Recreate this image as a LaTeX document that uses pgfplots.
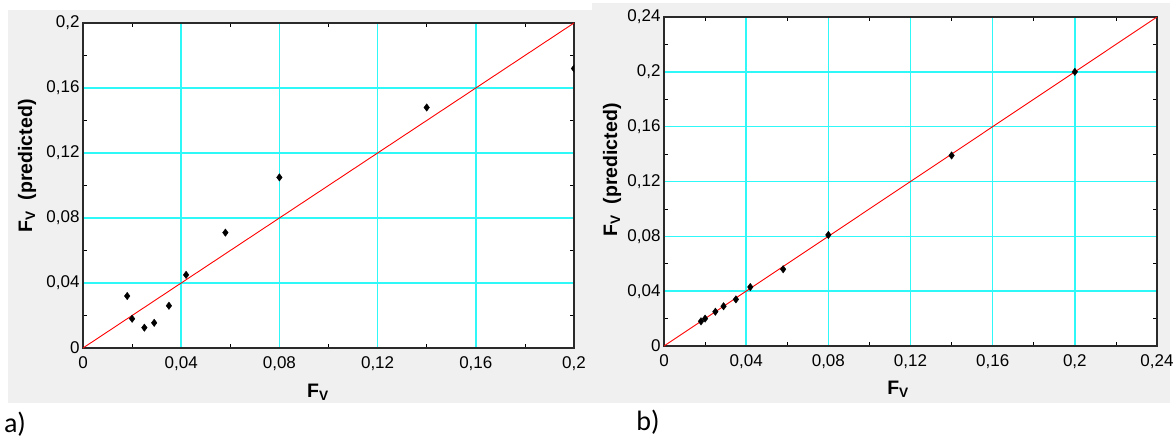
\documentclass[border=0pt]{standalone}
\usepackage{fontspec}
\setmainfont{Liberation Sans}
\newfontfamily\calibri{Carlito}
\usepackage{pgfplots}
\pgfplotsset{compat=1.18}

\definecolor{panelgray}{HTML}{F0F0F0}
\definecolor{gridcyan}{HTML}{2EF8F8}
\definecolor{frame}{HTML}{2A2A2A}

\pgfplotsset{
  parity/.style={
    anchor=south west, scale only axis,
    axis background/.style={fill=white},
    axis line style={frame, line width=1.3pt},
    grid=major, grid style={gridcyan, line width=1.6pt},
    minor x tick num=1, minor y tick num=1,
    major tick length=0pt, minor tick length=4pt,
    minor tick style={black, line width=0.8pt},
    ticklabel style={font=\fontsize{17}{20}\selectfont},
    xticklabel style={yshift=-5pt},
    clip marker paths=true,
  },
}

\begin{document}
\begin{tikzpicture}
\path[use as bounding box, fill=white] (0,0) rectangle (1173pt,440pt);
\fill[panelgray] (8pt,37pt) rectangle (592pt,430pt);
\fill[panelgray] (592pt,37pt) rectangle (1170pt,437pt);

% a) measured vs predicted
\begin{axis}[parity,
  at={(83pt,92pt)}, width=491pt, height=325pt,
  xmin=0, xmax=0.2, ymin=0, ymax=0.2,
  xtick={0,0.04,0.08,0.12,0.16,0.2},
  ytick={0,0.04,0.08,0.12,0.16,0.2},
  xticklabels={0,{0,04},{0,08},{0,12},{0,16},{0,2}},
  yticklabels={0,{0,04},{0,08},{0,12},{0,16},{0,2}},
]
\addplot[red, line width=0.9pt] coordinates {(0,0) (0.2,0.2)};
\addplot[only marks, mark=diamond*, mark size=3.7pt, black] coordinates {
  (0.018,0.032) (0.020,0.018) (0.025,0.0125) (0.029,0.0155) (0.035,0.026)
  (0.042,0.045) (0.058,0.071) (0.080,0.105) (0.140,0.148) (0.200,0.172)
};
\end{axis}

% b)
\begin{axis}[parity,
  at={(664pt,94pt)}, width=493pt, height=329pt,
  xmin=0, xmax=0.24, ymin=0, ymax=0.24,
  xtick={0,0.04,0.08,0.12,0.16,0.2,0.24},
  ytick={0,0.04,0.08,0.12,0.16,0.2,0.24},
  xticklabels={0,{0,04},{0,08},{0,12},{0,16},{0,2},{0,24}},
  yticklabels={0,{0,04},{0,08},{0,12},{0,16},{0,2},{0,24}},
]
\addplot[red, line width=0.9pt] coordinates {(0,0) (0.24,0.24)};
\addplot[only marks, mark=diamond*, mark size=3.7pt, black] coordinates {
  (0.018,0.018) (0.020,0.020) (0.025,0.025) (0.029,0.029) (0.035,0.034)
  (0.042,0.043) (0.058,0.056) (0.080,0.081) (0.140,0.139) (0.200,0.200)
};
\end{axis}

\begin{scope}[every node/.style={font=\bfseries\fontsize{19.5}{22}\selectfont, inner sep=0pt}]
\node[rotate=90] at (27pt,274pt) {F\textsubscript{V}\ \ (predicted)};
\node at (318pt,48pt) {F\textsubscript{V}};
\node[rotate=90] at (612pt,270pt) {F\textsubscript{V}\ \ (predicted)};
\node at (898pt,51pt) {F\textsubscript{V}};
\end{scope}

\node[font=\calibri\fontsize{28}{32}\selectfont] at (15pt,16pt) {a)};
\node[font=\calibri\fontsize{28}{32}\selectfont] at (648pt,18pt) {b)};
\end{tikzpicture}
\end{document}
